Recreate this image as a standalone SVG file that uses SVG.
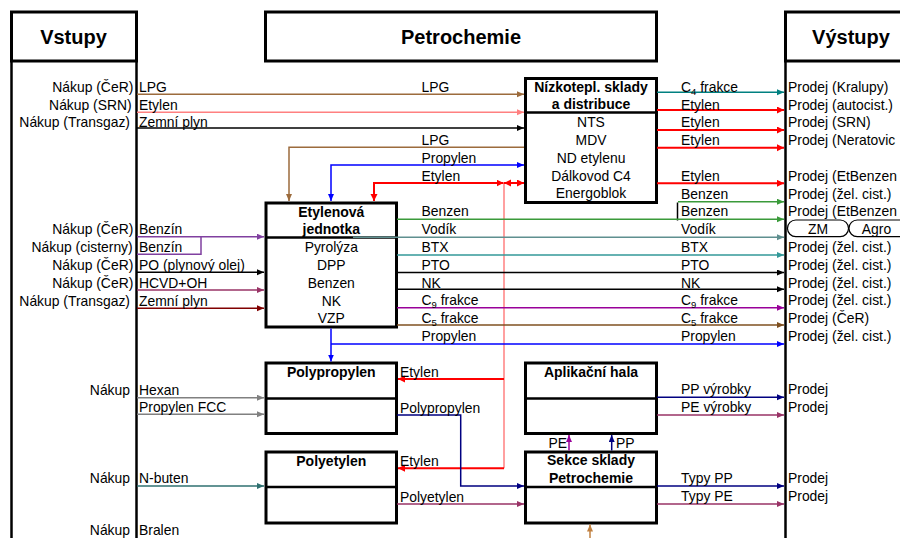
<svg xmlns="http://www.w3.org/2000/svg" width="900" height="538" viewBox="0 0 900 538">
<style>
text{font-family:"Liberation Sans",Arial,sans-serif;font-size:13.9px;fill:#000}
.b{font-weight:bold;font-size:14px}
.h{font-weight:bold;font-size:20px}
.c{text-anchor:middle}
.e{text-anchor:end}
.box{fill:#fff;stroke:#000;stroke-width:3}
.div{stroke:#000;stroke-width:2.5}
.pill{fill:#fff;stroke:#000;stroke-width:1.2}
.ln{fill:none;stroke-width:1.5}
.brown{stroke:#9C6B3C}.pink{stroke:#FF8080}.black{stroke:#000}.blue{stroke:#0000FF}.red{stroke:#FF0000;stroke-width:2}
.teal{stroke:#008080}.green{stroke:#3A9A3A}.vodik{stroke:#5F8F8F}.btx{stroke:#339999}.c9{stroke:#990099}.c5{stroke:#7F5020}
.benzin{stroke:#8040A0}.hcvd{stroke:#993366}.dred{stroke:#800000}.gray{stroke:#808080}.nbut{stroke:#2F7070}.navy{stroke:#000080}.mag{stroke:#993366}.lbrown{stroke:#C08040}
</style>
<defs>
<marker id="a-brown" markerUnits="userSpaceOnUse" markerWidth="8" markerHeight="8" refX="7" refY="3" orient="auto-start-reverse"><path d="M0,0L7,3L0,6z" fill="#9C6B3C"/></marker>
<marker id="a-pink" markerUnits="userSpaceOnUse" markerWidth="8" markerHeight="8" refX="7" refY="3" orient="auto-start-reverse"><path d="M0,0L7,3L0,6z" fill="#FF8080"/></marker>
<marker id="a-black" markerUnits="userSpaceOnUse" markerWidth="8" markerHeight="8" refX="7" refY="3" orient="auto-start-reverse"><path d="M0,0L7,3L0,6z" fill="#000"/></marker>
<marker id="a-blue" markerUnits="userSpaceOnUse" markerWidth="8" markerHeight="8" refX="7" refY="3" orient="auto-start-reverse"><path d="M0,0L7,3L0,6z" fill="#0000FF"/></marker>
<marker id="a-red" markerUnits="userSpaceOnUse" markerWidth="8" markerHeight="8" refX="7" refY="3.5" orient="auto-start-reverse"><path d="M0,0L7,3.5L0,7z" fill="#FF0000"/></marker>
<marker id="a-teal" markerUnits="userSpaceOnUse" markerWidth="8" markerHeight="8" refX="7" refY="3" orient="auto-start-reverse"><path d="M0,0L7,3L0,6z" fill="#008080"/></marker>
<marker id="a-green" markerUnits="userSpaceOnUse" markerWidth="8" markerHeight="8" refX="7" refY="3" orient="auto-start-reverse"><path d="M0,0L7,3L0,6z" fill="#3A9A3A"/></marker>
<marker id="a-vodik" markerUnits="userSpaceOnUse" markerWidth="8" markerHeight="8" refX="7" refY="3" orient="auto-start-reverse"><path d="M0,0L7,3L0,6z" fill="#5F8F8F"/></marker>
<marker id="a-btx" markerUnits="userSpaceOnUse" markerWidth="8" markerHeight="8" refX="7" refY="3" orient="auto-start-reverse"><path d="M0,0L7,3L0,6z" fill="#339999"/></marker>
<marker id="a-c9" markerUnits="userSpaceOnUse" markerWidth="8" markerHeight="8" refX="7" refY="3" orient="auto-start-reverse"><path d="M0,0L7,3L0,6z" fill="#990099"/></marker>
<marker id="a-c5" markerUnits="userSpaceOnUse" markerWidth="8" markerHeight="8" refX="7" refY="3" orient="auto-start-reverse"><path d="M0,0L7,3L0,6z" fill="#7F5020"/></marker>
<marker id="a-benzin" markerUnits="userSpaceOnUse" markerWidth="8" markerHeight="8" refX="7" refY="3" orient="auto-start-reverse"><path d="M0,0L7,3L0,6z" fill="#8040A0"/></marker>
<marker id="a-mag" markerUnits="userSpaceOnUse" markerWidth="8" markerHeight="8" refX="7" refY="3" orient="auto-start-reverse"><path d="M0,0L7,3L0,6z" fill="#993366"/></marker>
<marker id="a-dred" markerUnits="userSpaceOnUse" markerWidth="8" markerHeight="8" refX="7" refY="3" orient="auto-start-reverse"><path d="M0,0L7,3L0,6z" fill="#800000"/></marker>
<marker id="a-gray" markerUnits="userSpaceOnUse" markerWidth="8" markerHeight="8" refX="7" refY="3" orient="auto-start-reverse"><path d="M0,0L7,3L0,6z" fill="#808080"/></marker>
<marker id="a-nbut" markerUnits="userSpaceOnUse" markerWidth="8" markerHeight="8" refX="7" refY="3" orient="auto-start-reverse"><path d="M0,0L7,3L0,6z" fill="#2F7070"/></marker>
<marker id="a-navy" markerUnits="userSpaceOnUse" markerWidth="8" markerHeight="8" refX="7" refY="3" orient="auto-start-reverse"><path d="M0,0L7,3L0,6z" fill="#000080"/></marker>
<marker id="a-pe" markerUnits="userSpaceOnUse" markerWidth="8" markerHeight="8" refX="7" refY="3" orient="auto-start-reverse"><path d="M0,0L7,3L0,6z" fill="#990099"/></marker>
<marker id="a-lbrown" markerUnits="userSpaceOnUse" markerWidth="8" markerHeight="8" refX="7" refY="3" orient="auto-start-reverse"><path d="M0,0L7,3L0,6z" fill="#C08040"/></marker>
</defs>
<rect width="900" height="538" fill="#fff"/>

<!-- Column headers -->
<g id="vstupy">
<rect class="box" x="11.5" y="12" width="125" height="49"/>
<line class="div" x1="11.5" y1="61" x2="11.5" y2="538" stroke-width="3"/>
<line class="div" x1="136.5" y1="61" x2="136.5" y2="538" stroke-width="3"/>
<text class="h c" x="73.5" y="44">Vstupy</text>
</g>
<g id="petrochemie">
<rect class="box" x="265.5" y="12" width="391" height="49"/>
<text class="h c" x="461" y="44">Petrochemie</text>
</g>
<g id="vystupy">
<rect class="box" x="785.5" y="12" width="130" height="49"/>
<line class="div" x1="785.5" y1="61" x2="785.5" y2="538" stroke-width="3"/>
<text class="h c" x="851" y="44">Výstupy</text>
</g>

<!-- Process nodes -->
<g id="nizkotepl">
<rect class="box" x="525.5" y="78.5" width="131" height="124"/>
<line class="div" x1="525.5" y1="112.5" x2="656.5" y2="112.5"/>
<text class="b c" x="591" y="91.7">Nízkotepl. sklady</text>
<text class="b c" x="591" y="109.3">a distribuce</text>
<text class="c" x="591" y="127">NTS</text>
<text class="c" x="591" y="145">MDV</text>
<text class="c" x="591" y="163">ND etylenu</text>
<text class="c" x="591" y="180.5">Dálkovod C4</text>
<text class="c" x="591" y="198.3">Energoblok</text>
</g>
<g id="etylenova">
<rect class="box" x="266" y="203" width="130.5" height="124"/>
<line class="div" x1="266" y1="237.5" x2="396.5" y2="237.5"/>
<text class="b c" x="331.3" y="216.7">Etylenová</text>
<text class="b c" x="331.3" y="234.3">jednotka</text>
<text class="c" x="331.3" y="252">Pyrolýza</text>
<text class="c" x="331.3" y="270">DPP</text>
<text class="c" x="331.3" y="287.7">Benzen</text>
<text class="c" x="331.3" y="305.5">NK</text>
<text class="c" x="331.3" y="323">VZP</text>
</g>
<g id="polypropylen">
<rect class="box" x="266" y="363" width="130.5" height="70.5"/>
<line class="div" x1="266" y1="398.5" x2="396.5" y2="398.5"/>
<text class="b c" x="331.3" y="376.7">Polypropylen</text>
</g>
<g id="polyetylen">
<rect class="box" x="266" y="452" width="130.5" height="71"/>
<line class="div" x1="266" y1="487" x2="396.5" y2="487"/>
<text class="b c" x="331.3" y="465.7">Polyetylen</text>
</g>
<g id="aplikacni">
<rect class="box" x="525.5" y="363" width="131" height="70.5"/>
<line class="div" x1="525.5" y1="398.5" x2="656.5" y2="398.5"/>
<text class="b c" x="591" y="376.7">Aplikační hala</text>
</g>
<g id="sekce">
<rect class="box" x="525.5" y="452" width="131" height="71"/>
<line class="div" x1="525.5" y1="487" x2="656.5" y2="487"/>
<text class="b c" x="591" y="465">Sekce sklady</text>
<text class="b c" x="591" y="482.7">Petrochemie</text>
</g>
<g id="zm">
<rect class="pill" x="787.5" y="220" width="61" height="16.7" rx="8.3"/>
<text class="c" x="818" y="233.5">ZM</text>
</g>
<g id="agro">
<rect class="pill" x="849" y="220" width="70" height="16.7" rx="8.3"/>
<text class="c" x="876.5" y="233.5">Agro</text>
</g>

<!-- Connectors -->
<g id="connectors">
<path class="ln brown" d="M137,94.3H524" marker-end="url(#a-brown)"/>
<path class="ln pink" d="M137,112.3H524" marker-end="url(#a-pink)"/>
<path class="ln black" d="M137,128H524" marker-end="url(#a-black)"/>
<path class="ln brown" d="M524,147.3H289V201" marker-end="url(#a-brown)"/>
<path class="ln blue" d="M331,201V165H524" marker-start="url(#a-blue)" marker-end="url(#a-blue)"/>
<path class="ln pink" d="M504,183V468.3" stroke-width="2"/>
<path class="ln red" d="M374,201V183H503.5" marker-start="url(#a-red)" marker-end="url(#a-red)"/>
<path class="ln red" d="M504,183H524" marker-start="url(#a-red)" marker-end="url(#a-red)"/>
<path class="ln red" d="M504,379H398" marker-end="url(#a-red)"/>
<path class="ln red" d="M504,468.3H398" marker-end="url(#a-red)"/>

<path class="ln teal" d="M657,92.3H784" marker-end="url(#a-teal)"/>
<path class="ln red" d="M657,110H784" marker-end="url(#a-red)"/>
<path class="ln red" d="M657,130H784" marker-end="url(#a-red)"/>
<path class="ln red" d="M657,147.7H784" marker-end="url(#a-red)"/>
<path class="ln red" d="M657,183.3H784" marker-end="url(#a-red)"/>
<path class="ln green" d="M678,201.7H784" marker-end="url(#a-green)"/>
<path class="ln black" d="M677.5,202.5V220.5" stroke-width="2"/>
<path class="ln green" d="M397,219.3H784" marker-end="url(#a-green)"/>
<path class="ln vodik" d="M353,237.3H784" marker-end="url(#a-vodik)"/>
<path class="ln btx" d="M397,255H784" marker-end="url(#a-btx)"/>
<path class="ln black" d="M397,272.5H784" marker-end="url(#a-black)"/>
<path class="ln black" d="M397,289.3H784" marker-end="url(#a-black)"/>
<path class="ln c9" d="M397,307.7H784" marker-end="url(#a-c9)"/>
<path class="ln c5" d="M397,325H784" marker-end="url(#a-c5)"/>
<path class="ln blue" d="M331,328.5V361.5" marker-end="url(#a-blue)"/>
<path class="ln blue" d="M331,344H784" marker-end="url(#a-blue)"/>

<path class="ln benzin" d="M137,236.7H264" marker-end="url(#a-benzin)"/>
<path class="ln benzin" d="M137,254.3H201V236.7"/>
<path class="ln black" d="M137,272.3H264" marker-end="url(#a-black)"/>
<path class="ln hcvd" d="M137,290H264" marker-end="url(#a-mag)"/>
<path class="ln dred" d="M137,308.3H264" marker-end="url(#a-dred)"/>
<path class="ln gray" d="M137,397.7H264" marker-end="url(#a-gray)"/>
<path class="ln gray" d="M137,414.3H264" marker-end="url(#a-gray)"/>
<path class="ln nbut" d="M137,486H264" marker-end="url(#a-nbut)"/>

<path class="ln navy" d="M397,415H460.7V486H524" marker-end="url(#a-navy)"/>
<path class="ln mag" d="M397,504H524" marker-end="url(#a-mag)"/>
<path class="ln navy" d="M657,397.3H784" marker-end="url(#a-navy)"/>
<path class="ln mag" d="M657,415H784" marker-end="url(#a-mag)"/>
<path class="ln navy" d="M657,486H784" marker-end="url(#a-navy)"/>
<path class="ln mag" d="M657,504H784" marker-end="url(#a-mag)"/>
<path class="ln c9" d="M569,450.5V435" stroke-width="2" marker-end="url(#a-pe)"/>
<path class="ln navy" d="M611.7,450.5V435" stroke-width="2" marker-end="url(#a-navy)"/>
<path class="ln lbrown" d="M590,538V524.5" marker-end="url(#a-lbrown)"/>
</g>

<!-- Input labels -->
<g id="input-labels">
<text class="e" x="133.3" y="91.7">Nákup (ČeR)</text>
<text class="e" x="131.7" y="109.5">Nákup (SRN)</text>
<text class="e" x="130" y="126.7">Nákup (Transgaz)</text>
<text class="e" x="133.3" y="234.3">Nákup (ČeR)</text>
<text class="e" x="132.7" y="252">Nákup (cisterny)</text>
<text class="e" x="133.3" y="270">Nákup (ČeR)</text>
<text class="e" x="133.3" y="287.7">Nákup (ČeR)</text>
<text class="e" x="130" y="305.5">Nákup (Transgaz)</text>
<text class="e" x="130" y="395">Nákup</text>
<text class="e" x="130" y="483.3">Nákup</text>
<text class="e" x="130" y="535">Nákup</text>
<text x="139" y="91.7">LPG</text>
<text x="139" y="109.5">Etylen</text>
<text x="139" y="126.7">Zemní plyn</text>
<text x="139" y="234.3">Benzín</text>
<text x="139" y="252">Benzín</text>
<text x="139" y="270">PO (plynový olej)</text>
<text x="139" y="287.7">HCVD+OH</text>
<text x="139" y="305.5">Zemní plyn</text>
<text x="139" y="395">Hexan</text>
<text x="139" y="411.7">Propylen FCC</text>
<text x="139" y="483.3">N-buten</text>
<text x="139" y="535">Bralen</text>
</g>

<!-- Flow labels -->
<g id="flow-labels">
<text x="421.5" y="91.7">LPG</text>
<text x="421.5" y="145">LPG</text>
<text x="421.5" y="163">Propylen</text>
<text x="421.5" y="180.7">Etylen</text>
<text x="421.5" y="216.3">Benzen</text>
<text x="421.5" y="234.1">Vodík</text>
<text x="421.5" y="251.9">BTX</text>
<text x="421.5" y="269.7">PTO</text>
<text x="421.5" y="287.5">NK</text>
<text x="421.5" y="305.3">C<tspan font-size="9.5" dy="3">9</tspan><tspan dy="-3"> frakce</tspan></text>
<text x="421.5" y="323.1">C<tspan font-size="9.5" dy="3">5</tspan><tspan dy="-3"> frakce</tspan></text>
<text x="421.5" y="340.9">Propylen</text>
<text x="400" y="376.7">Etylen</text>
<text x="400" y="412.7">Polypropylen</text>
<text x="400" y="465.7">Etylen</text>
<text x="400" y="501.7">Polyetylen</text>
<text x="681" y="91.7">C<tspan font-size="9.5" dy="3">4</tspan><tspan dy="-3"> frakce</tspan></text>
<text x="681" y="109.5">Etylen</text>
<text x="681" y="127.3">Etylen</text>
<text x="681" y="145">Etylen</text>
<text x="681" y="181">Etylen</text>
<text x="681" y="198.5">Benzen</text>
<text x="681" y="216.3">Benzen</text>
<text x="681" y="234.1">Vodík</text>
<text x="681" y="252">BTX</text>
<text x="681" y="269.7">PTO</text>
<text x="681" y="287.5">NK</text>
<text x="681" y="305.3">C<tspan font-size="9.5" dy="3">9</tspan><tspan dy="-3"> frakce</tspan></text>
<text x="681" y="323.1">C<tspan font-size="9.5" dy="3">5</tspan><tspan dy="-3"> frakce</tspan></text>
<text x="681" y="340.9">Propylen</text>
<text x="681" y="394.3">PP výrobky</text>
<text x="681" y="412">PE výrobky</text>
<text x="681" y="483">Typy PP</text>
<text x="681" y="501">Typy PE</text>
<text class="e" x="567" y="447.7">PE</text>
<text x="616" y="447.7">PP</text>
</g>

<!-- Output labels -->
<g id="output-labels">
<text x="788" y="91.7">Prodej (Kralupy)</text>
<text x="788" y="109.5">Prodej (autocist.)</text>
<text x="788" y="127.3">Prodej (SRN)</text>
<text x="788" y="145">Prodej (Neratovic</text>
<text x="788" y="181">Prodej (EtBenzen</text>
<text x="788" y="198.5">Prodej (žel. cist.)</text>
<text x="788" y="216.3">Prodej (EtBenzen</text>
<text x="788" y="252">Prodej (žel. cist.)</text>
<text x="788" y="269.7">Prodej (žel. cist.)</text>
<text x="788" y="287.5">Prodej (žel. cist.)</text>
<text x="788" y="305.3">Prodej (žel. cist.)</text>
<text x="788" y="323.1">Prodej (ČeR)</text>
<text x="788" y="340.9">Prodej (žel. cist.)</text>
<text x="788" y="394.3">Prodej</text>
<text x="788" y="412">Prodej</text>
<text x="788" y="483">Prodej</text>
<text x="788" y="501">Prodej</text>
</g>
</svg>
